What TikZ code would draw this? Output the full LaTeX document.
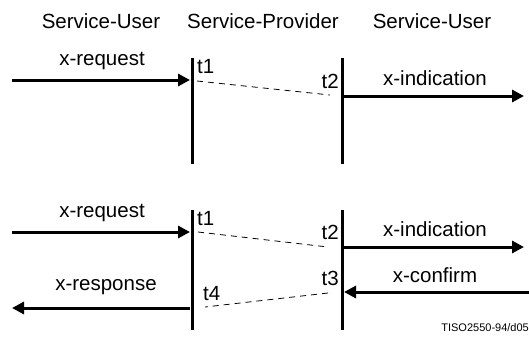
\documentclass[tikz,border=0pt]{standalone}
\usepackage{fontspec}
\setmainfont{Liberation Sans}
\usetikzlibrary{arrows.meta}
\begin{document}
\begin{tikzpicture}[x=1pt,y=-1pt,
  lbl/.style={font=\fontsize{20.5}{23}\selectfont, anchor=base, inner sep=0pt},
  tlw/.style={lbl, anchor=base west},
  tle/.style={lbl, anchor=base east},
  msg/.style={line width=3pt, -{Triangle[length=12pt,width=12pt]}},
  life/.style={line width=3pt},
  dsh/.style={line width=0.8pt, dash pattern=on 6pt off 5pt}]
\useasboundingbox (0,0) rectangle (529,338);
% headers
\node[lbl] (h1) at (101,28) {Service-User};
\node[lbl] (h2) at (263,28) {Service-Provider};
\node[lbl] (h3) at (432,28) {Service-User};
% ---- top diagram
\coordinate (A1t) at (192,58);
\coordinate (A1b) at (192,164);
\coordinate (A2t) at (342,58);
\coordinate (A2b) at (342,164);
\draw[life] (A1t) -- (A1b);
\draw[life] (A2t) -- (A2b);
\coordinate (reqS) at (12,80);
\coordinate (reqE) at (190,80);
\draw[msg] (reqS) -- (reqE);
\coordinate (indS) at (343,96);
\coordinate (indE) at (524,96);
\draw[msg] (indS) -- (indE);
\coordinate (d1a) at (197,81);
\coordinate (d1b) at (330,95);
\draw[dsh] (d1a) -- (d1b);
\node[lbl] (req1) at (102,65) {x-request};
\node[lbl] (ind1) at (435,85) {x-indication};
\node[tlw] (t1a) at (197,73) {t1};
\node[tle] (t2a) at (339,88) {t2};
% ---- bottom diagram
\coordinate (B1t) at (192,210);
\coordinate (B1b) at (192,330);
\coordinate (B2t) at (342,210);
\coordinate (B2b) at (342,330);
\draw[life] (B1t) -- (B1b);
\draw[life] (B2t) -- (B2b);
\coordinate (req2S) at (12,232);
\coordinate (req2E) at (190,232);
\draw[msg] (req2S) -- (req2E);
\coordinate (ind2S) at (343,247);
\coordinate (ind2E) at (524,247);
\draw[msg] (ind2S) -- (ind2E);
\coordinate (cnfS) at (529,292);
\coordinate (cnfE) at (344,292);
\draw[msg] (cnfS) -- (cnfE);
\coordinate (rspS) at (190,308);
\coordinate (rspE) at (12,308);
\draw[msg] (rspS) -- (rspE);
\coordinate (d2a) at (198,232);
\coordinate (d2b) at (328,247);
\draw[dsh] (d2a) -- (d2b);
\coordinate (d3a) at (328,293);
\coordinate (d3b) at (205,307);
\draw[dsh] (d3a) -- (d3b);
\node[lbl] (req2) at (102,217) {x-request};
\node[lbl] (ind2) at (435,236) {x-indication};
\node[lbl] (cnf) at (435,282) {x-confirm};
\node[lbl] (rsp) at (106,290) {x-response};
\node[tlw] (t1b) at (197,225) {t1};
\node[tle] (t2b) at (339,239) {t2};
\node[tle] (t3b) at (339,285) {t3};
\node[tlw] (t4b) at (203,300) {t4};
\node[anchor=base east, inner sep=0pt, font=\fontsize{11}{13}\selectfont] (ref) at (529,331) {TISO2550-94/d05};
\end{tikzpicture}
\end{document}
